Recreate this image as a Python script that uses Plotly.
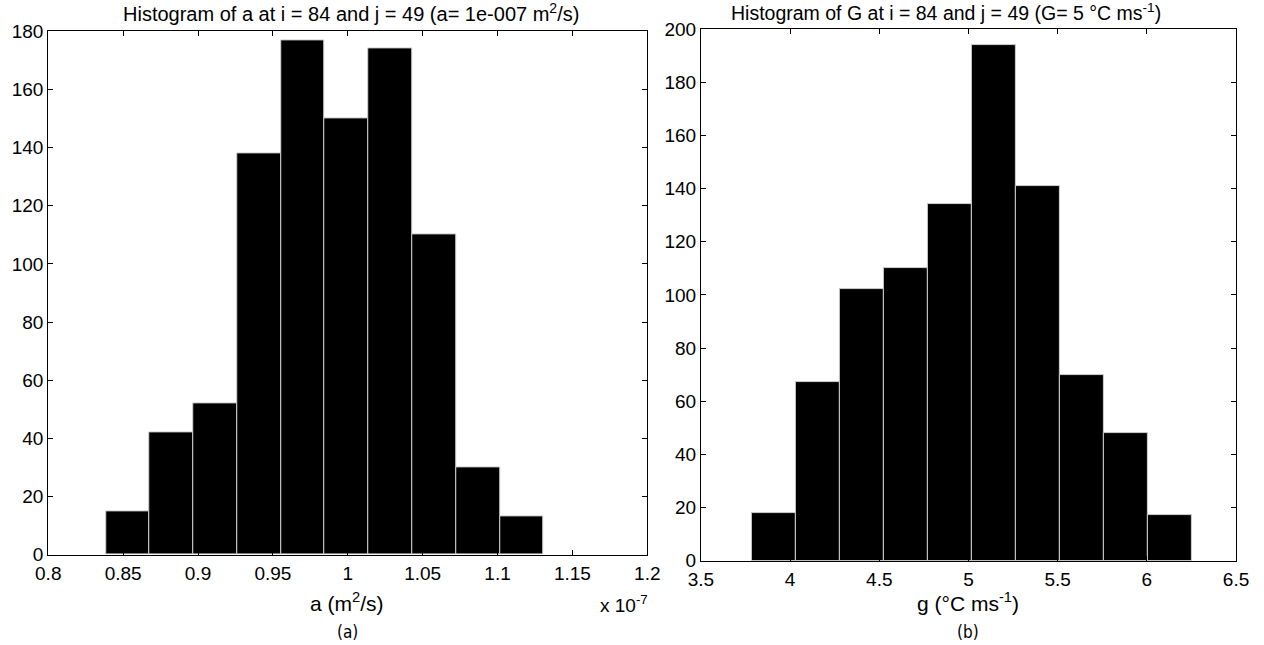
import plotly.graph_objects as go

# Panel (a): diffusivity a, bin centres in units of 1e-7 m^2/s
a_centers = [0.8531, 0.8823, 0.9115, 0.9408, 0.9700, 0.9992, 1.0284, 1.0577, 1.0869, 1.1161]
a_counts = [15, 42, 52, 138, 177, 150, 174, 110, 30, 13]
a_bin_width = 0.02922
a_xticks = [0.8, 0.85, 0.9, 0.95, 1, 1.05, 1.1, 1.15, 1.2]
a_yticks = [0, 20, 40, 60, 80, 100, 120, 140, 160, 180]

# Panel (b): G, bin centres in degC ms^-1
g_centers = [3.907, 4.154, 4.401, 4.648, 4.895, 5.142, 5.389, 5.636, 5.883, 6.130]
g_counts = [18, 67, 102, 110, 134, 194, 141, 70, 48, 17]
g_bin_width = 0.2469
g_xticks = [3.5, 4, 4.5, 5, 5.5, 6, 6.5]
g_yticks = [0, 20, 40, 60, 80, 100, 120, 140, 160, 180, 200]

FONT = "Liberation Sans, Arial, Helvetica, sans-serif"
TICK = 19

# pixel -> paper mapping (paper area observed inset by ~12 px)
def X(px):
    return (px - 12) / 1240

def Y(py):
    return (633 - py) / 621

fig = go.Figure()
fig.add_trace(go.Bar(x=a_centers, y=a_counts, width=a_bin_width,
                     marker=dict(color="black", line=dict(color="#cfcfcf", width=1)),
                     xaxis="x", yaxis="y", showlegend=False))
fig.add_trace(go.Bar(x=g_centers, y=g_counts, width=g_bin_width,
                     marker=dict(color="black", line=dict(color="#cfcfcf", width=1)),
                     xaxis="x2", yaxis="y2", showlegend=False))

axis_common = dict(showline=True, linecolor="black", linewidth=1, mirror="ticks",
                   ticks="inside", ticklen=5, tickcolor="black", showgrid=False,
                   zeroline=False, tickfont=dict(family=FONT, size=TICK, color="black"))

fig.update_layout(
    width=1264, height=645,
    margin=dict(l=0, r=0, t=0, b=0),
    paper_bgcolor="white", plot_bgcolor="white",
    font=dict(family=FONT, size=TICK, color="black"),
    xaxis=dict(domain=[X(47.3), X(647.3)], range=[0.8, 1.2], tickvals=a_xticks,
               ticktext=[f"{v:g}" for v in a_xticks], anchor="y", ticklabelstandoff=2, **axis_common),
    yaxis=dict(domain=[Y(554), Y(33.3)], range=[0, 180], tickvals=a_yticks, anchor="x", **axis_common),
    xaxis2=dict(domain=[X(701), X(1237)], range=[3.5, 6.5], tickvals=g_xticks,
                ticktext=[f"{v:g}" for v in g_xticks], anchor="y2", ticklabelstandoff=2, **axis_common),
    yaxis2=dict(domain=[Y(560), Y(31)], range=[0, 200], tickvals=g_yticks, anchor="x2", **axis_common),
    bargap=0,
)

ann = []
def add(text, px, py, size=TICK, family=FONT, xanchor="center"):
    ann.append(dict(text=text, x=X(px), y=Y(py), xref="paper", yref="paper", showarrow=False,
                    xanchor=xanchor, yanchor="middle", font=dict(family=family, size=size, color="black")))

add("Histogram of a at i = 84 and j = 49 (a= 1e-007 m<sup>2</sup>/s)", 351, 14, size=20)
add("Histogram of G at i = 84 and j = 49 (G= 5 °C ms<sup>-1</sup>)", 947, 14, size=19.5)
add("a (m<sup>2</sup>/s)", 347, 601, size=21)
add("g (°C ms<sup>-1</sup>)", 969, 601, size=21)
add("x 10<sup>-7</sup>", 624, 603)
add("(a)", 347, 631, size=17, family="DejaVu Sans Condensed, DejaVu Sans, sans-serif")
add("(b)", 969, 631, size=17, family="DejaVu Sans Condensed, DejaVu Sans, sans-serif")
fig.update_layout(annotations=ann)

fig.write_html("out.html")
